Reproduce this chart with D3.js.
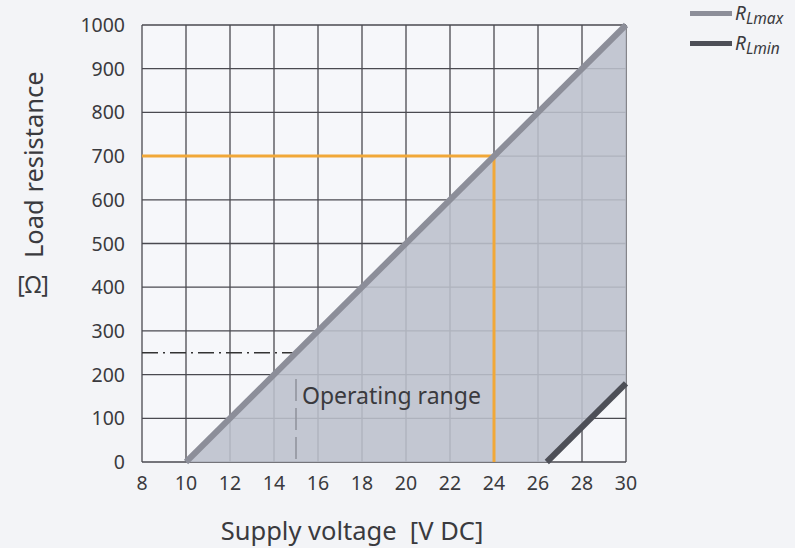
<!DOCTYPE html>
<html>
<head>
<meta charset="utf-8">
<script src="https://cdn.jsdelivr.net/npm/d3@7"></script>
<style>
  body { margin: 0; background: #f3f4f7; }
  svg { display: block; }
  text { font-family: "Noto Sans", "DejaVu Sans", sans-serif; fill: #3a3a3e; }
</style>
</head>
<body>
<svg id="chart" width="795" height="548"></svg>
<script>
// ticks
const xTicks = [8, 10, 12, 14, 16, 18, 20, 22, 24, 26, 28, 30];
const yTicks = [0, 100, 200, 300, 400, 500, 600, 700, 800, 900, 1000];

// load lines [voltage, ohm]
const rLmax = [[10, 0], [30, 1000]];
const rLmin = [[26.4, 0], [30, 180]];

// operating point example
const opPoint = [24, 700];
// dash-dot example
const example = [[8, 250], [15, 250]];
const exampleDrop = [[15, 190], [15, 0]];

const legendItems = [
  { sub: "Lmax", color: "#8c8e99" },
  { sub: "Lmin", color: "#4d4f57" }
];

const svg = d3.select("#chart");

const x = d3.scaleLinear().domain([8, 30]).range([142, 626]);
const y = d3.scaleLinear().domain([0, 1000]).range([462, 25]);
const line = d3.line().x(d => x(d[0])).y(d => y(d[1]));

// plot bg
svg.append("rect")
  .attr("x", x(8)).attr("y", y(1000))
  .attr("width", x(30) - x(8)).attr("height", y(0) - y(1000))
  .attr("fill", "#f6f7fa");

// grid
const grid = svg.append("g").attr("stroke", "#4a4a50").attr("stroke-width", 1.3);
grid.selectAll(".vx").data(xTicks).enter().append("line")
  .attr("x1", d => x(d)).attr("x2", d => x(d))
  .attr("y1", y(0)).attr("y2", y(1000));
grid.selectAll(".hy").data(yTicks).enter().append("line")
  .attr("x1", x(8)).attr("x2", x(30))
  .attr("y1", d => y(d)).attr("y2", d => y(d));

// operating range fill
const area = [rLmax[0], rLmax[1], rLmin[1], rLmin[0]];
svg.append("path")
  .attr("d", line(area) + "Z")
  .attr("fill", "#bcc0cc")
  .attr("fill-opacity", 0.88);

// example dash-dot
svg.append("path")
  .attr("d", line(example))
  .attr("stroke", "#333")
  .attr("stroke-width", 1.5)
  .attr("stroke-dasharray", "16,5,2,5")
  .attr("fill", "none");

svg.append("path")
  .attr("d", line(exampleDrop))
  .attr("stroke", "#8e919b")
  .attr("stroke-width", 1.5)
  .attr("stroke-dasharray", "22,7")
  .attr("fill", "none");

// orange operating point
const orange = [[8, opPoint[1]], opPoint, [opPoint[0], 0]];
svg.append("path")
  .attr("d", line(orange))
  .attr("stroke", "#f1a838")
  .attr("stroke-width", 3)
  .attr("fill", "none");

// load lines
svg.append("path")
  .attr("d", line(rLmax))
  .attr("stroke", legendItems[0].color)
  .attr("stroke-width", 6)
  .attr("fill", "none");
svg.append("path")
  .attr("d", line(rLmin))
  .attr("stroke", legendItems[1].color)
  .attr("stroke-width", 6)
  .attr("fill", "none");

// tick labels
svg.selectAll(".xl").data(xTicks).enter().append("text")
  .attr("x", d => x(d)).attr("y", 490)
  .attr("text-anchor", "middle")
  .attr("font-size", 19.5)
  .text(d => d);
svg.selectAll(".yl").data(yTicks).enter().append("text")
  .attr("x", 125).attr("y", d => y(d) + 7)
  .attr("text-anchor", "end")
  .attr("font-size", 19.5)
  .text(d => d);

// titles
svg.append("text")
  .attr("x", 352).attr("y", 540)
  .attr("text-anchor", "middle")
  .attr("font-size", 25.5)
  .attr("xml:space", "preserve")
  .text("Supply voltage  [V DC]");

svg.append("text")
  .attr("transform", "translate(43,258) rotate(-90)")
  .attr("font-size", 25.5)
  .text("Load resistance");
svg.append("text")
  .attr("x", 33).attr("y", 293)
  .attr("text-anchor", "middle")
  .attr("font-size", 23)
  .text("[Ω]");

svg.append("text")
  .attr("x", 302).attr("y", 404)
  .attr("font-size", 23)
  .attr("fill", "#33353b")
  .text("Operating range");

// legend
const leg = svg.append("g");
legendItems.forEach((d, i) => {
  const ly = 13.5 + i * 30;
  leg.append("line")
    .attr("x1", 690).attr("x2", 732)
    .attr("y1", ly).attr("y2", ly)
    .attr("stroke", d.color).attr("stroke-width", 5);
  const t = leg.append("text")
    .attr("x", 735).attr("y", ly + 6.5)
    .attr("font-family", "Liberation Serif, DejaVu Serif, serif")
    .attr("font-style", "italic")
    .attr("font-size", 19)
    .attr("fill", "#333");
  t.append("tspan").text("R");
  t.append("tspan").attr("dy", 3.5).attr("font-size", 15.5).text(d.sub);
});
</script>
</body>
</html>
